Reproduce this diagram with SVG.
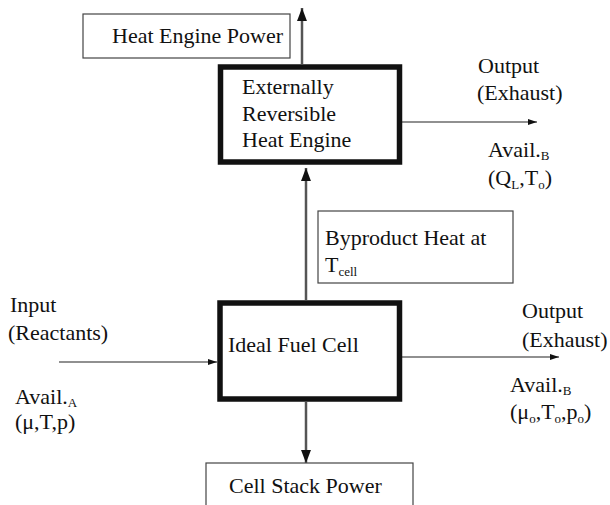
<svg xmlns="http://www.w3.org/2000/svg" width="610" height="505" viewBox="0 0 610 505">
<style>
text{font-family:"Liberation Serif","Times New Roman",serif;font-size:22px;fill:#111}
.sub{font-size:13px}
.thick{fill:#fff;stroke:#111;stroke-width:5.5}
.box{fill:#fff;stroke:#444;stroke-width:1.2}
.flow{stroke:#555;stroke-width:2.5;fill:none}
.line{stroke:#222;stroke-width:1.2;fill:none}
</style>
<defs>
<marker id="big" markerWidth="13" markerHeight="17" refX="17" refY="6.5" viewBox="0 0 17 13" orient="auto" markerUnits="userSpaceOnUse">
<path d="M0,0 L17,6.5 L0,13 Z" fill="#111"/>
</marker>
<marker id="small" markerWidth="9" markerHeight="6" refX="9" refY="3" viewBox="0 0 9 6" orient="auto" markerUnits="userSpaceOnUse">
<path d="M0,0 L9,3 L0,6 Z" fill="#111"/>
</marker>
</defs>
<g id="connectors">
<line class="flow" x1="302" y1="64" x2="302" y2="8" marker-end="url(#big)"/>
<line class="flow" x1="306" y1="300" x2="306" y2="168" marker-end="url(#big)"/>
<line class="flow" x1="306" y1="402" x2="306" y2="463" marker-end="url(#big)"/>
<line class="line" x1="59" y1="362" x2="217" y2="362" marker-end="url(#small)"/>
<line class="line" x1="402" y1="122" x2="537" y2="122" marker-end="url(#small)"/>
<line class="line" x1="402" y1="357" x2="559" y2="357" marker-end="url(#small)"/>
</g>
<g id="heat-engine-power">
<rect class="box" x="83" y="14" width="207" height="44"/>
<text x="112" y="43">Heat Engine Power</text>
</g>
<g id="heat-engine">
<rect class="thick" x="220.5" y="67" width="179" height="95"/>
<text x="242" y="94">Externally</text>
<text x="242" y="121">Reversible</text>
<text x="242" y="147">Heat Engine</text>
</g>
<g id="byproduct-heat">
<rect class="box" x="318" y="211" width="195" height="72"/>
<text x="325" y="245">Byproduct Heat at</text>
<text x="325" y="272">T<tspan class="sub" dy="4">cell</tspan></text>
</g>
<g id="fuel-cell">
<rect class="thick" x="220" y="303" width="179.5" height="96"/>
<text x="228" y="352">Ideal Fuel Cell</text>
</g>
<g id="cell-stack-power">
<rect class="box" x="206" y="463" width="207" height="60"/>
<text x="229" y="493">Cell Stack Power</text>
</g>
<g id="input-label">
<text x="10" y="312">Input</text>
<text x="8" y="340">(Reactants)</text>
<text x="15" y="404">Avail.<tspan class="sub" dy="3">A</tspan></text>
<text x="15" y="429">(μ,T,p)</text>
</g>
<g id="heat-engine-output">
<text x="478" y="73">Output</text>
<text x="477" y="100">(Exhaust)</text>
<text x="488" y="157">Avail.<tspan class="sub" dy="3">B</tspan></text>
<text x="488" y="185">(Q<tspan class="sub" dy="4">L</tspan><tspan dy="-4">,T</tspan><tspan class="sub" dy="4">o</tspan><tspan dy="-4">)</tspan></text>
</g>
<g id="fuel-cell-output">
<text x="522" y="318">Output</text>
<text x="522" y="347">(Exhaust)</text>
<text x="510" y="392">Avail.<tspan class="sub" dy="3">B</tspan></text>
<text x="510" y="419">(μ<tspan class="sub" dy="4">o</tspan><tspan dy="-4">,T</tspan><tspan class="sub" dy="4">o</tspan><tspan dy="-4">,p</tspan><tspan class="sub" dy="4">o</tspan><tspan dy="-4">)</tspan></text>
</g>
</svg>
